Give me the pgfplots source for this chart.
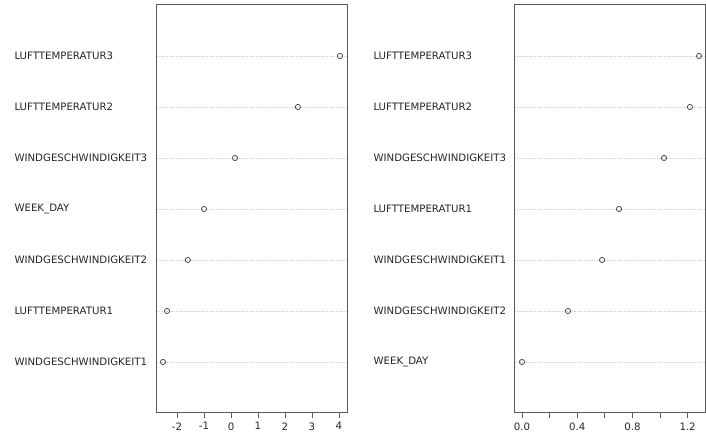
\documentclass[border=0pt]{standalone}
\usepackage{pgfplots}
\pgfplotsset{compat=1.18}
\usepackage{fontspec}
\setmainfont{DejaVu Sans}
\definecolor{frame}{HTML}{5A5A5A}
\definecolor{gridc}{HTML}{D4D4D4}
\definecolor{markc}{HTML}{4A4A4A}
\pgfplotsset{
  dotstyle/.style={
    scale only axis, anchor=south west,
    width=191bp, height=408bp,
    ymin=0, ymax=8,
    axis line style={frame, line width=1bp},
    ytick={1,...,7},
    major tick length=0pt,
    ymajorgrids, grid style={gridc, dash pattern=on 1.5bp off 1bp, line width=0.5bp},
    xtick pos=bottom,
    xtick align=outside,
    x tick style={frame, line width=0.8bp, /pgfplots/major tick length=5bp},
    tick label style={font=\fontsize{10.2bp}{12bp}\selectfont, text=black!85},
    /pgf/number format/assume math mode=true,
    yticklabel style={anchor=west},
    xticklabel style={yshift=-6bp},
    clip=false,
  },
  dotmarks/.style={only marks, mark=o, mark size=2.6bp, mark options={markc, line width=0.8bp}},
}
\begin{document}
\begin{tikzpicture}[x=1bp,y=1bp]
\useasboundingbox (0,0) rectangle (706,437);
\begin{axis}[dotstyle, at={(156bp,24bp)},
  xmin=-2.78, xmax=4.30,
  xtick={-2,-1,0,1,2,3,4},
  yticklabels={WINDGESCHWINDIGKEIT1,LUFTTEMPERATUR1,WINDGESCHWINDIGKEIT2,WEEK\_DAY,WINDGESCHWINDIGKEIT3,LUFTTEMPERATUR2,LUFTTEMPERATUR3},
  yticklabel style={xshift=-145bp},
]
\addplot[dotmarks] coordinates {(-2.52,1) (-2.37,2) (-1.6,3) (-1.0,4) (0.15,5) (2.48,6) (4.04,7)};
\end{axis}
\begin{axis}[dotstyle, at={(514bp,24bp)},
  xmin=-0.058, xmax=1.326,
  xtick={0,0.2,0.4,0.6,0.8,1.0,1.2},
  xticklabels={0.0,,0.4,,0.8,,1.2},
  yticklabels={WEEK\_DAY,WINDGESCHWINDIGKEIT2,WINDGESCHWINDIGKEIT1,LUFTTEMPERATUR1,WINDGESCHWINDIGKEIT3,LUFTTEMPERATUR2,LUFTTEMPERATUR3},
  yticklabel style={xshift=-144bp},
]
\addplot[dotmarks] coordinates {(0.0,1) (0.333,2) (0.58,3) (0.703,4) (1.029,5) (1.217,6) (1.283,7)};
\end{axis}
\end{tikzpicture}
\end{document}
